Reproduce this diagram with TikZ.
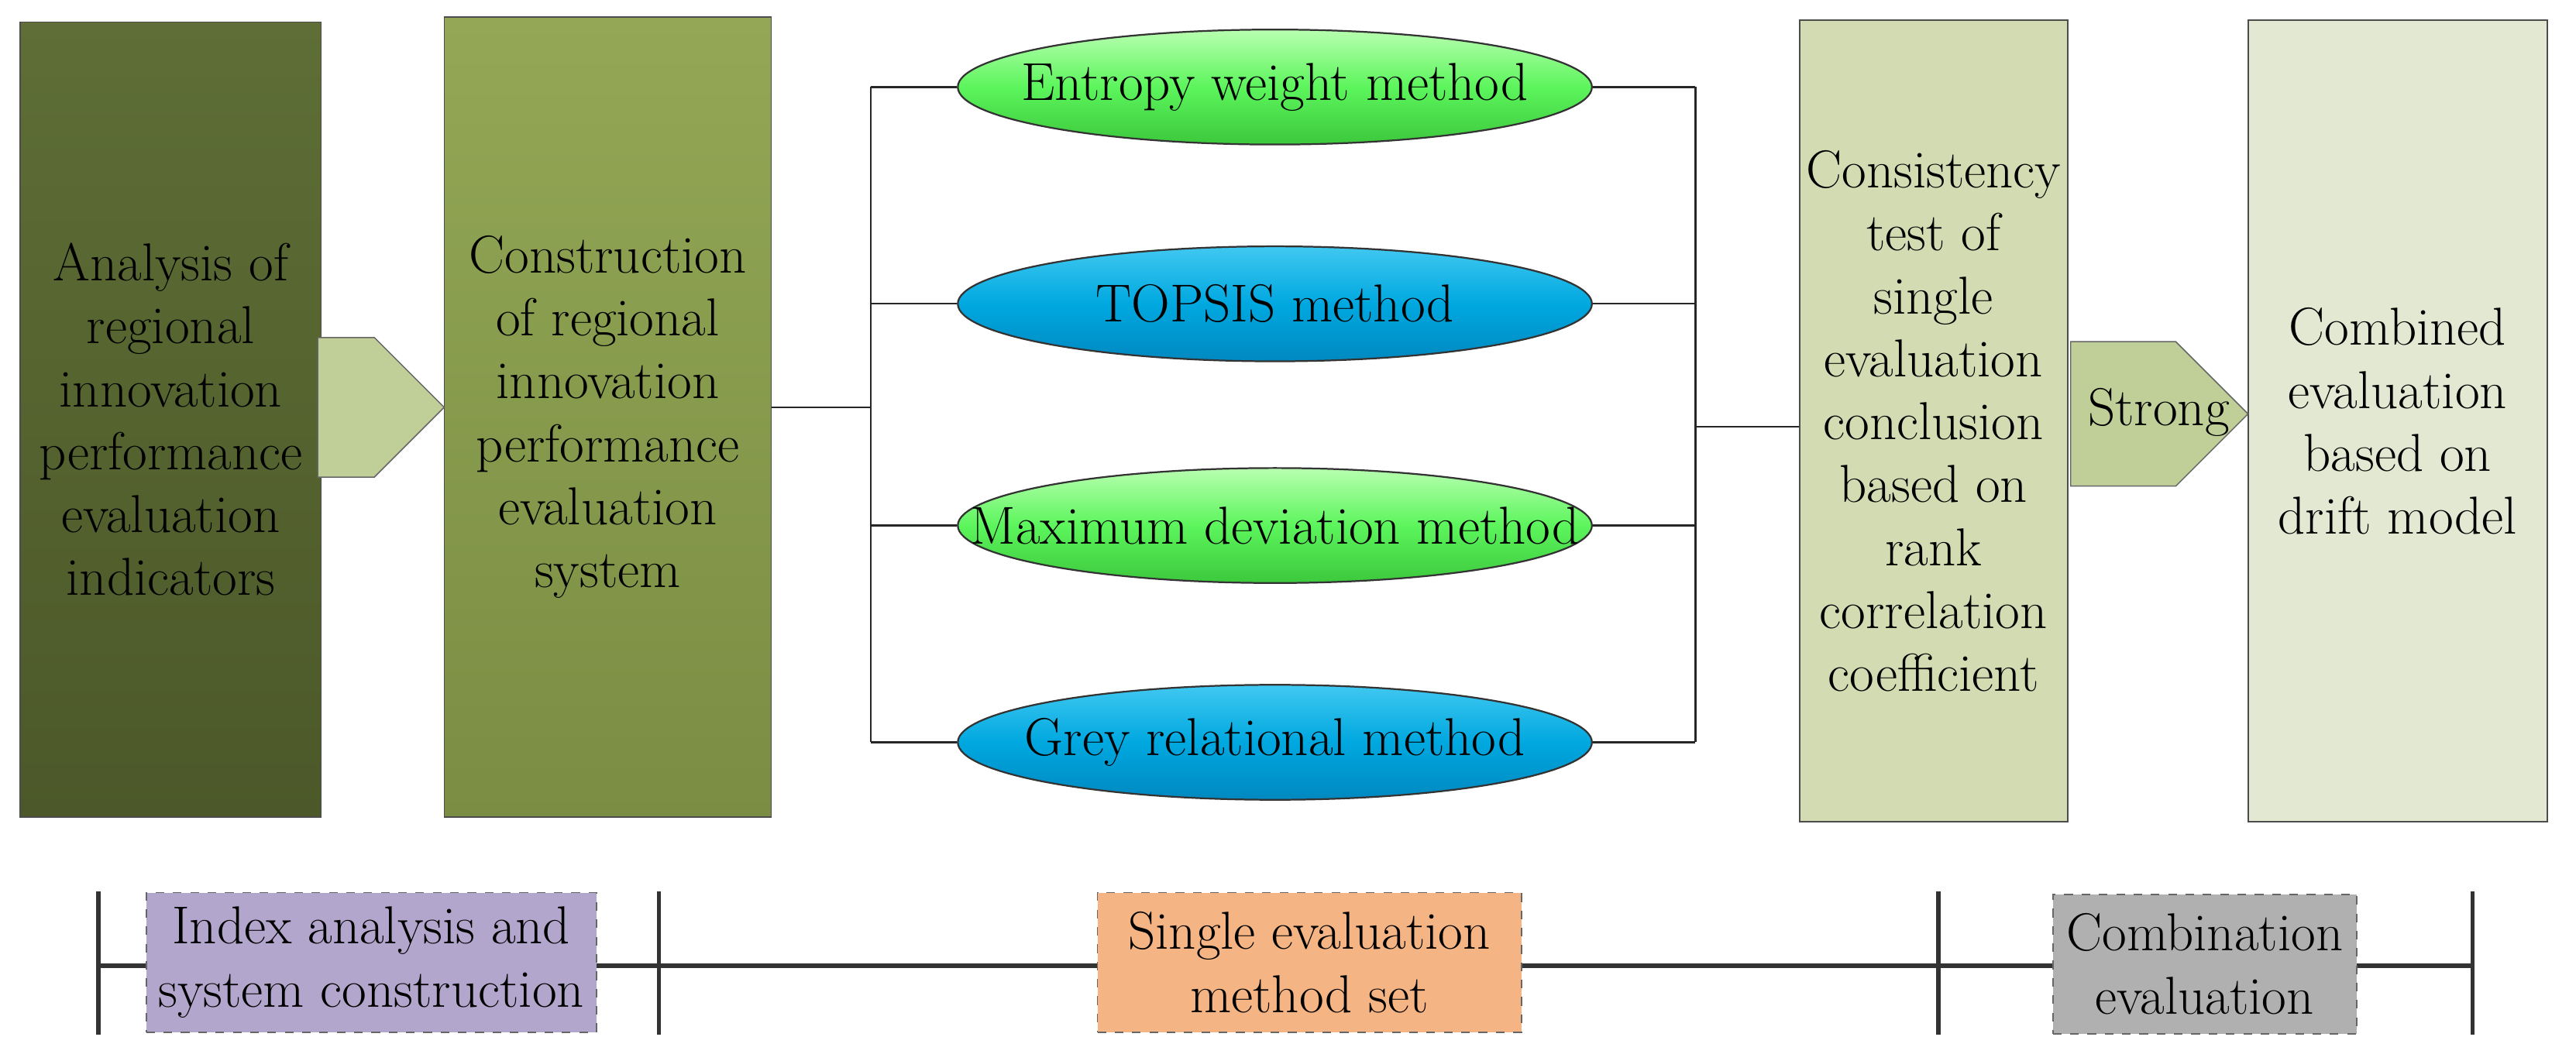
\documentclass[tikz,border=0pt]{standalone}
\usetikzlibrary{shapes.geometric,shapes.arrows}
\definecolor{c1a}{HTML}{5E6E36}\definecolor{c1b}{HTML}{4C5829}
\definecolor{c2a}{HTML}{93A756}\definecolor{c2b}{HTML}{7A8D43}
\definecolor{c3}{HTML}{D3DBB3}\definecolor{c4}{HTML}{E2E8D2}
\definecolor{car}{HTML}{C0CF98}
\definecolor{gA}{HTML}{B8FFB0}\definecolor{gB}{HTML}{5CF55C}\definecolor{gC}{HTML}{3CC83C}
\definecolor{bA}{HTML}{40C8F0}\definecolor{bB}{HTML}{00A8E0}\definecolor{bC}{HTML}{0088C0}
\definecolor{pu}{HTML}{B3A6CC}\definecolor{orc}{HTML}{F4B483}\definecolor{gr}{HTML}{B0B0B0}
\begin{document}
\begin{tikzpicture}[x=0.02cm,y=-0.02cm,
  txt/.style={font=\fontsize{18.5}{21.8}\selectfont,align=center},
  box/.style={draw=black!70,line width=0.5pt,txt},
  ell/.style={ellipse,draw=black!80,line width=0.6pt,inner sep=0pt,minimum width=386*0.02cm,minimum height=70*0.02cm},
  gell/.style={ell,top color=gA,bottom color=gC,middle color=gB},
  bell/.style={ell,top color=bA,bottom color=bC,middle color=bB},
  ln/.style={line width=0.6pt,black!85},
  arr/.style={single arrow,draw=black!60,fill=car,single arrow head extend=0pt,inner sep=0pt,anchor=tail},
  tag/.style={draw=black!60,dashed,line width=0.5pt,txt,minimum height=85*0.02cm}]
\useasboundingbox (0,0) rectangle (1568,646);
% boxes
\node[box,top color=c1a,bottom color=c1b,minimum width=183*0.02cm,minimum height=484*0.02cm,anchor=north west] (b1) at (12,13) {};
\node[txt] at (b1.center) {Analysis of\\regional\\innovation\\performance\\evaluation\\indicators};
\node[box,top color=c2a,bottom color=c2b,minimum width=199*0.02cm,minimum height=487*0.02cm,anchor=north west] (b2) at (270,10) {};
\node[txt] at (b2.center) {Construction\\of regional\\innovation\\performance\\evaluation\\system};
\node[box,fill=c3,minimum width=163*0.02cm,minimum height=488*0.02cm,anchor=north west] (b3) at (1095,12) {};
\node[txt] at (b3.center) {Consistency\\test of\\single\\evaluation\\conclusion\\based on\\rank\\correlation\\coefficient};
\node[box,fill=c4,minimum width=182*0.02cm,minimum height=488*0.02cm,anchor=north west] (b4) at (1368,12) {};
\node[txt] at (b4.center) {Combined\\evaluation\\based on\\drift model};
% arrows
\node[arr,minimum height=77*0.02cm,minimum width=85*0.02cm] (a1) at (193,248) {};
\node[arr,minimum height=108*0.02cm,minimum width=88*0.02cm] (a2) at (1260,252) {};
\node[txt] at (1314,251) {Strong};
% ellipses
\node[gell] (e1) at (776,53) {};
\node[bell] (e2) at (776,185) {};
\node[gell] (e3) at (776,320) {};
\node[bell] (e4) at (776,452) {};
\node[txt] at (e1.center) {Entropy weight method};
\node[txt] at (e2.center) {TOPSIS method};
\node[txt] at (e3.center) {Maximum deviation method};
\node[txt] at (e4.center) {Grey relational method};
\coordinate (l1) at (530,53); \coordinate (l4) at (530,452);
\coordinate (r1) at (1032,53); \coordinate (r4) at (1032,452);
\coordinate (lm) at (530,248); \coordinate (rm) at (1032,260);
\draw[ln] (l1)--(l4); \draw[ln] (r1)--(r4);
\draw[ln] (b2.east|-lm)--(lm); \draw[ln] (rm)--(b3.west|-rm);
\foreach \e in {e1,e2,e3,e4}{\draw[ln] (\e.west)--(\e.west-|l1); \draw[ln] (\e.east)--(\e.east-|r1);}
% timeline
\coordinate (t0) at (60,588); \coordinate (t3) at (1505,588);
\draw[line width=1.5pt,black!80] (t0)--(t3);
\foreach \x in {60,401,1180,1505}{\draw[line width=1.5pt,black!80] (\x,543)--(\x,630);}
\node[tag,fill=pu,minimum width=274*0.02cm] (g1) at (226,586) {Index analysis and\\system construction};
\node[tag,fill=orc,minimum width=258*0.02cm] (g2) at (797,586) {Single evaluation\\method set};
\node[tag,fill=gr,minimum width=185*0.02cm] (g3) at (1342,587) {Combination\\evaluation};
\end{tikzpicture}
\end{document}
